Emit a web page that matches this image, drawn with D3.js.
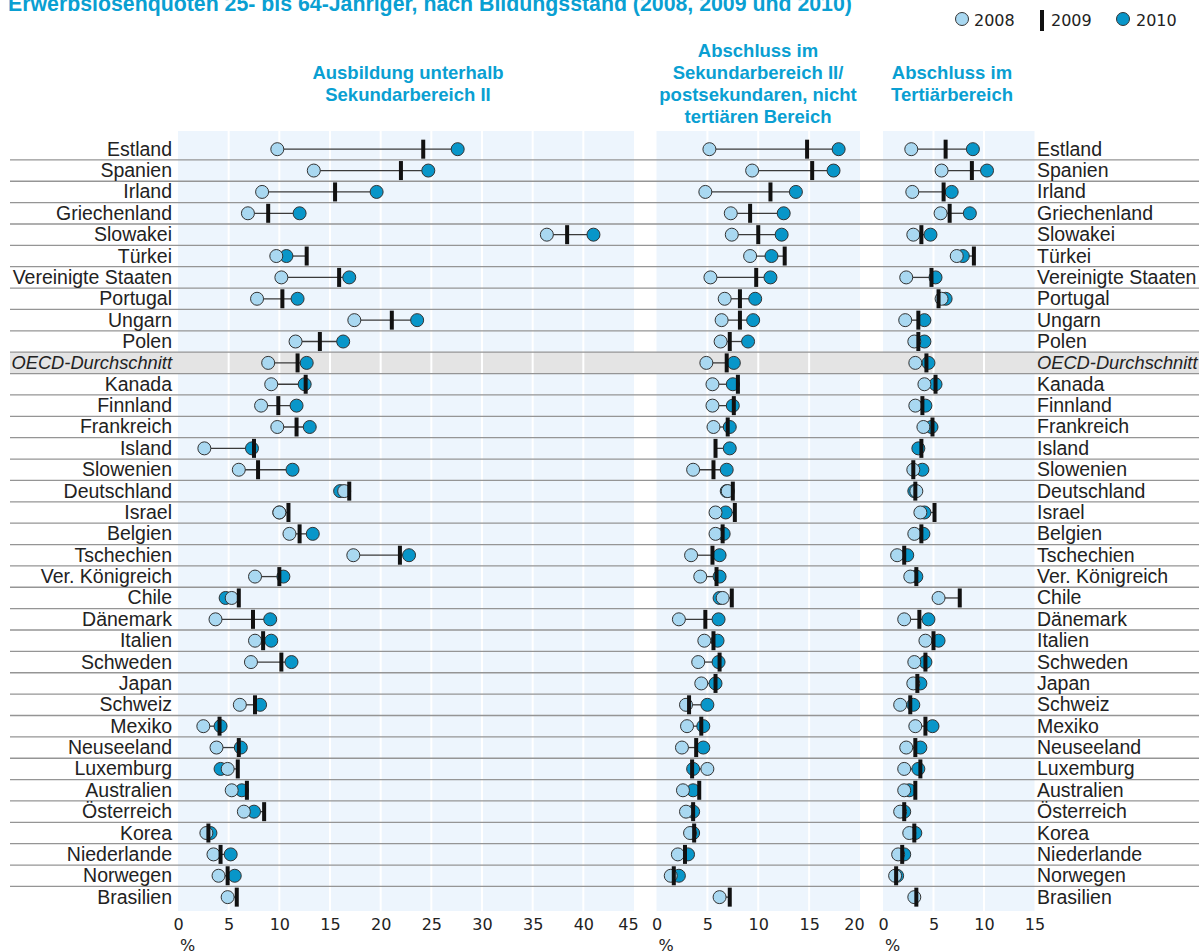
<!DOCTYPE html>
<html>
<head>
<meta charset="utf-8">
<script src="https://cdn.jsdelivr.net/npm/d3@7"></script>
<style>
body{
  margin: 0;
  background-color: white;
}
svg text{
  font-family: "Liberation Sans", Arial, sans-serif;
}
.country{
  font-size: 19.5px;
  fill: #222;
}
.country.avg{
  font-size: 18.3px;
  font-style: italic;
}
.head{
  font-size: 18.5px;
  font-weight: bold;
  fill: #0a9fd2;
}
.tick text, .legend text{
  font-family: "DejaVu Sans", sans-serif;
  font-size: 16px;
  fill: #222;
}
</style>
</head>
<body>
<div id="chart"></div>

<script type="text/javascript">
var countries = ["Estland", "Spanien", "Irland", "Griechenland", "Slowakei", "Türkei",
  "Vereinigte Staaten", "Portugal", "Ungarn", "Polen", "OECD-Durchschnitt", "Kanada",
  "Finnland", "Frankreich", "Island", "Slowenien", "Deutschland", "Israel", "Belgien",
  "Tschechien", "Ver. Königreich", "Chile", "Dänemark", "Italien", "Schweden", "Japan",
  "Schweiz", "Mexiko", "Neuseeland", "Luxemburg", "Australien", "Österreich", "Korea",
  "Niederlande", "Norwegen", "Brasilien"];

var years = ["2008", "2009", "2010"];

var panelTitles = [
  ["Ausbildung unterhalb", "Sekundarbereich II"],
  ["Abschluss im", "Sekundarbereich II/", "postsekundaren, nicht", "tertiären Bereich"],
  ["Abschluss im", "Tertiärbereich"]
];
var panelTicks = [
  [0, 5, 10, 15, 20, 25, 30, 35, 40, 45],
  [0, 5, 10, 15, 20],
  [0, 5, 10, 15]
];

// each row: [2008, 2009, 2010], null = no value
var unterhalb = [
  [9.8, 24.2, 27.6], [13.4, 22.0, 24.7], [8.3, 15.5, 19.6], [6.9, 8.9, 12.0],
  [36.4, 38.4, 41.0], [9.7, 12.7, 10.7], [10.2, 15.9, 16.9], [7.8, 10.3, 11.8],
  [17.4, 21.1, 23.6], [11.6, 14.0, 16.3], [8.9, 11.8, 12.7], [9.2, 12.6, 12.5],
  [8.2, 9.9, 11.7], [9.8, 11.7, 13.0], [2.6, 7.5, 7.3], [6.0, 7.9, 11.3],
  [16.4, 16.9, 16.0], [10.0, 10.9, 10.0], [11.0, 12.0, 13.3], [17.3, 21.9, 22.8],
  [7.6, 10.0, 10.4], [5.3, 6.0, 4.7], [3.7, 7.4, 9.1], [7.6, 8.4, 9.2],
  [7.2, 10.2, 11.2], [null, null, null], [6.1, 7.6, 8.1], [2.5, 4.1, 4.2],
  [3.8, 6.0, 6.2], [4.9, 5.9, 4.2], [5.3, 6.8, 6.3], [6.5, 8.5, 7.5],
  [2.8, 3.0, 3.2], [3.5, 4.2, 5.2], [4.0, 4.9, 5.6], [4.9, 5.8, null]
];
var sekundar = [
  [5.2, 14.8, 17.9], [9.4, 15.3, 17.4], [4.8, 11.2, 13.7], [7.3, 9.2, 12.5],
  [7.4, 10.0, 12.3], [9.2, 12.6, 11.3], [5.3, 9.8, 11.2], [6.7, 8.2, 9.7],
  [6.4, 8.2, 9.5], [6.3, 7.2, 9.0], [4.9, 6.9, 7.6], [5.5, 8.0, 7.5],
  [5.5, 7.6, 7.5], [5.6, 7.0, 7.2], [null, 5.8, 7.2], [3.6, 5.6, 6.9],
  [7.0, 7.5, 6.9], [5.8, 7.7, 6.8], [5.8, 6.5, 6.6], [3.4, 5.5, 6.2],
  [4.3, 5.9, 6.2], [6.5, 7.4, 6.2], [2.2, 4.8, 6.1], [4.7, 5.6, 6.0],
  [4.1, 6.2, 6.1], [4.4, 5.8, 5.8], [2.9, 3.2, 5.0], [3.0, 4.4, 4.6],
  [2.5, 3.9, 4.6], [5.0, 3.5, 3.6], [2.6, 4.2, 3.6], [2.9, 3.6, 3.6],
  [3.3, 3.7, 3.6], [2.1, 2.8, 3.1], [1.4, 1.7, 2.2], [6.2, 7.2, null]
];
var tertiaer = [
  [2.8, 6.2, 8.9], [5.8, 8.8, 10.3], [2.9, 6.0, 6.8], [5.7, 6.6, 8.6],
  [3.0, 3.8, 4.7], [7.3, 9.0, 7.9], [2.3, 4.8, 5.2], [5.8, 5.5, 6.2],
  [2.2, 3.5, 4.1], [3.1, 3.5, 4.1], [3.2, 4.3, 4.5], [4.1, 5.2, 5.2],
  [3.2, 3.9, 4.2], [4.0, 4.9, 4.8], [null, 3.8, 3.5], [3.0, 3.0, 3.9],
  [3.3, 3.2, 3.1], [3.7, 5.1, 4.1], [3.1, 3.8, 4.0], [1.4, 2.1, 2.4],
  [2.7, 3.3, 3.3], [5.5, 7.6, null], [2.1, 3.6, 4.5], [4.2, 5.0, 5.5],
  [3.1, 4.2, 4.2], [3.0, 3.4, 3.7], [1.7, 2.7, 3.0], [3.2, 4.2, 4.9],
  [2.3, 3.2, 3.7], [2.1, 3.7, 3.5], [2.1, 3.2, 2.6], [1.7, 2.1, 2.1],
  [2.6, 3.1, 3.2], [1.5, 1.9, 2.1], [1.2, 1.3, 1.4], [3.1, 3.3, null]
];

var W = 1199, H = 952;
var rowTop = 138.5, rowH = 21.37;
var bandTop = 131, bandBottom = 911;
var col2008 = "#a9d8f1", col2010 = "#0896c9", band = "#edf5fd";

var panels = [
  {data: unterhalb, x0: 178, x1: 634, max: 45, head: 408},
  {data: sekundar, x0: 656.5, x1: 860, max: 20, head: 758},
  {data: tertiaer, x0: 883, x1: 1034.5, max: 15, head: 952}
];

var svg = d3.select("#chart").append("svg").attr("width", W).attr("height", H);

var y = d3.scaleBand().domain(countries).range([rowTop, rowTop + rowH * countries.length]);

// title and legend
svg.append("text").attr("x", 8).attr("y", 11)
  .attr("class", "head").style("font-size", "21.3px")
  .text("Erwerbslosenquoten 25- bis 64-Jähriger, nach Bildungsstand (2008, 2009 und 2010)");

var lg = svg.append("g").attr("class", "legend");
lg.append("circle").attr("cx", 962).attr("cy", 19).attr("r", 6.5)
  .attr("fill", col2008).attr("stroke", "#333");
lg.append("text").attr("x", 974).attr("y", 26).text("2008");
lg.append("rect").attr("x", 1040).attr("y", 10).attr("width", 4).attr("height", 21).attr("fill", "#111");
lg.append("text").attr("x", 1051).attr("y", 26).text("2009");
lg.append("circle").attr("cx", 1123).attr("cy", 19).attr("r", 6.5)
  .attr("fill", col2010).attr("stroke", "#333");
lg.append("text").attr("x", 1136).attr("y", 26).text("2010");

// bands
panels.forEach(function(p){
  p.x = d3.scaleLinear().domain([0, p.max]).range([p.x0, p.x1]);
  svg.append("rect").attr("x", p.x0).attr("y", bandTop)
    .attr("width", p.x1 - p.x0).attr("height", bandBottom - bandTop).attr("fill", band);
});

// OECD row
var oecd = "OECD-Durchschnitt";
svg.append("rect").attr("x", 10).attr("y", y(oecd)).attr("width", W - 10)
  .attr("height", y.bandwidth()).attr("fill", "#e4e4e4");

// white gridlines
panels.forEach(function(p, i){
  svg.selectAll(null).data(panelTicks[i].slice(1, -1)).enter().append("line")
    .attr("x1", function(d){ return p.x(d); }).attr("x2", function(d){ return p.x(d); })
    .attr("y1", bandTop).attr("y2", bandBottom)
    .attr("stroke", "white").attr("stroke-width", 2);
});

// row separators
svg.selectAll(".sep").data(countries.slice(1)).enter().append("line")
  .attr("class", "sep")
  .attr("x1", 10).attr("x2", W)
  .attr("y1", function(d){ return y(d); }).attr("y2", function(d){ return y(d); })
  .attr("stroke", "#959595").attr("stroke-width", 1.3);

// country labels
function labelClass(d){ return d == oecd ? "country avg" : "country"; }
svg.selectAll(".cl").data(countries).enter().append("text")
  .attr("class", labelClass).attr("x", 172).attr("text-anchor", "end")
  .attr("y", function(d){ return y(d) + y.bandwidth() / 2 + 6.5; })
  .text(function(d){ return d; });
svg.selectAll(".cr").data(countries).enter().append("text")
  .attr("class", labelClass).attr("x", 1037)
  .attr("y", function(d){ return y(d) + y.bandwidth() / 2 + 6.5; })
  .text(function(d){ return d; });

// headers, axes, marks
panels.forEach(function(p, i){
  var lines = panelTitles[i];
  var first = 90 - (lines.length - 1) * 11;
  svg.selectAll(null).data(lines).enter().append("text")
    .attr("class", "head").attr("text-anchor", "middle")
    .attr("x", p.head).attr("y", function(d, j){ return first + j * 22; })
    .text(function(d){ return d; });

  var ax = svg.append("g").attr("transform", "translate(0," + 915 + ")")
    .call(d3.axisBottom(p.x).tickValues(panelTicks[i]).tickSize(0).tickPadding(4));
  ax.select(".domain").remove();
  if(i < 2){
    ax.selectAll(".tick").filter(function(d){ return d == p.max; })
      .select("text").attr("dx", -6);
  }
  svg.append("text").attr("x", p.x0 + 2).attr("y", 951)
    .attr("class", "country").style("font-family", "DejaVu Sans").style("font-size", "16px")
    .text("%");

  var g = svg.append("g");
  var rows = countries.map(function(c, k){ return {c: c, v: p.data[k]}; });

  rows.forEach(function(r){
    var vals = r.v.filter(function(v){ return v != null; });
    if(vals.length < 2) return;
    var cy = y(r.c) + y.bandwidth() / 2;
    g.append("line").attr("x1", p.x(d3.min(vals))).attr("x2", p.x(d3.max(vals)))
      .attr("y1", cy).attr("y2", cy).attr("stroke", "#3a3a3a").attr("stroke-width", 1.3);
  });
  rows.forEach(function(r){
    var cy = y(r.c) + y.bandwidth() / 2;
    if(r.v[2] != null){
      g.append("circle").attr("cx", p.x(r.v[2])).attr("cy", cy).attr("r", 6.5)
        .attr("fill", col2010).attr("stroke", "#333").attr("stroke-width", 1);
    }
    if(r.v[0] != null){
      g.append("circle").attr("cx", p.x(r.v[0])).attr("cy", cy).attr("r", 6.5)
        .attr("fill", col2008).attr("stroke", "#333").attr("stroke-width", 1);
    }
    if(r.v[1] != null){
      g.append("rect").attr("x", p.x(r.v[1]) - 2).attr("y", cy - 9.5)
        .attr("width", 4).attr("height", 19).attr("fill", "#111");
    }
  });
});
</script>
</body>
</html>
